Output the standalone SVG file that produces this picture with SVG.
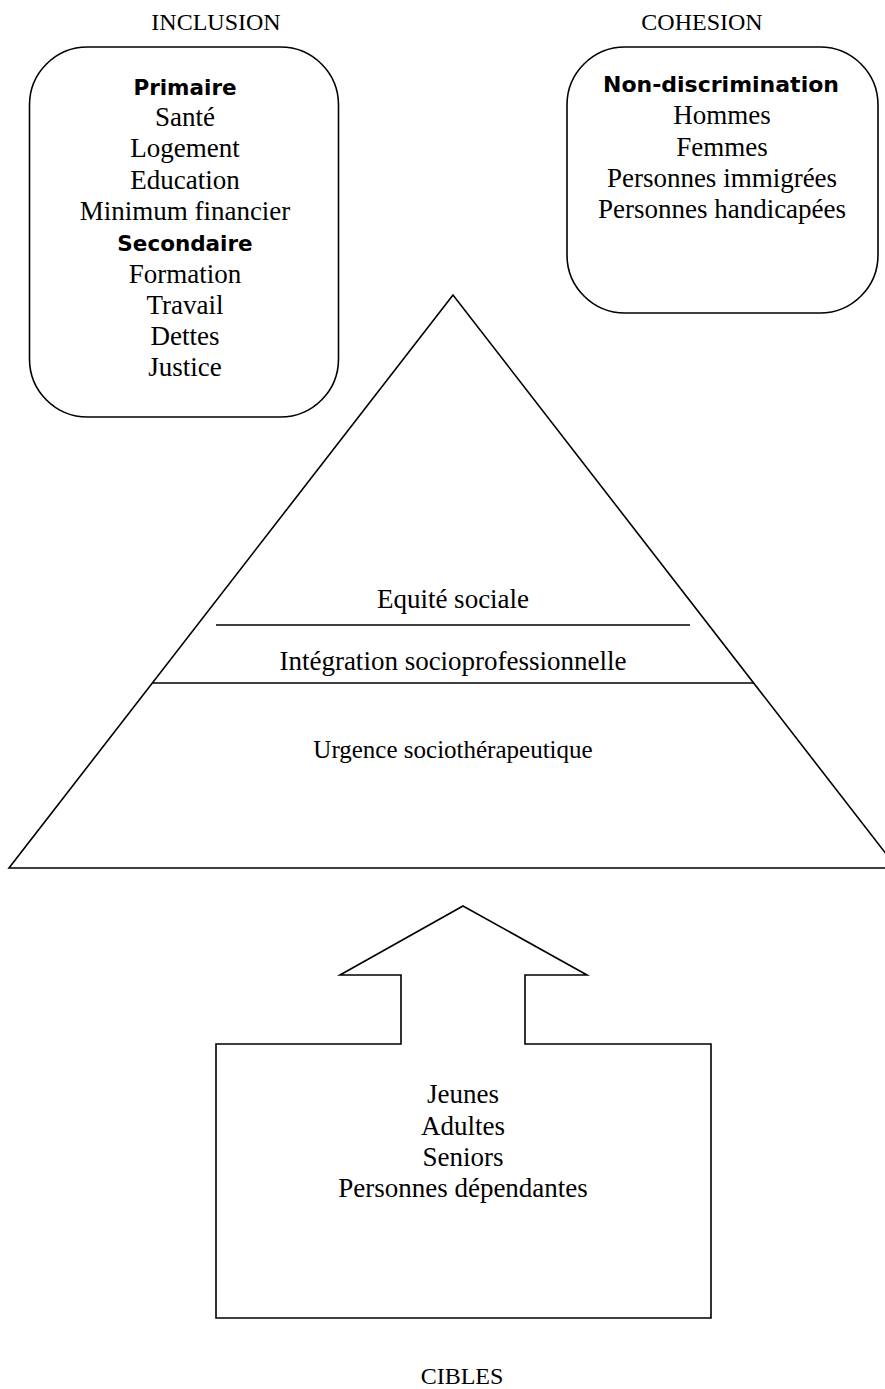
<svg xmlns="http://www.w3.org/2000/svg" width="885" height="1389" viewBox="0 0 885 1389">
<style>
.s{fill:none;stroke:#000;stroke-width:1.6}
.w{fill:#fff;stroke:#000;stroke-width:1.6}
.t{font-family:"Liberation Serif","Times New Roman",serif;font-size:27px;fill:#000;text-anchor:middle}
.h{font-family:"Liberation Serif","Times New Roman",serif;font-size:24px;fill:#000;text-anchor:middle}
.b{font-family:"DejaVu Sans",Verdana,sans-serif;font-weight:bold;font-size:21.5px;fill:#000;text-anchor:middle}
</style>
<rect width="885" height="1389" fill="#fff"/>
<g id="pyramid">
<polygon class="w" points="453,295 9,868 897,868"/>
<line class="s" x1="216" y1="625" x2="690" y2="625"/>
<line class="s" x1="153" y1="683" x2="753" y2="683"/>
<text class="t" x="453" y="608">Equité sociale</text>
<text class="t" x="453" y="670">Intégration socioprofessionnelle</text>
<text class="h" x="453" y="758" style="font-size:25px">Urgence sociothérapeutique</text>
</g>
<g id="inclusion">
<text class="h" x="216" y="30">INCLUSION</text>
<rect class="w" x="29.5" y="47" width="309" height="370" rx="58" ry="58"/>
<text class="b" x="185" y="95">Primaire</text>
<text class="t" x="185" y="126">Santé</text>
<text class="t" x="185" y="157">Logement</text>
<text class="t" x="185" y="189">Education</text>
<text class="t" x="185" y="220">Minimum financier</text>
<text class="b" x="185" y="251">Secondaire</text>
<text class="t" x="185" y="283">Formation</text>
<text class="t" x="185" y="314">Travail</text>
<text class="t" x="185" y="345">Dettes</text>
<text class="t" x="185" y="376">Justice</text>
</g>
<g id="cohesion">
<text class="h" x="702" y="30">COHESION</text>
<rect class="w" x="567" y="47" width="311" height="266" rx="58" ry="58"/>
<text class="b" x="721" y="92" style="font-size:22px">Non-discrimination</text>
<text class="t" x="722" y="124">Hommes</text>
<text class="t" x="722" y="156">Femmes</text>
<text class="t" x="722" y="187">Personnes immigrées</text>
<text class="t" x="722" y="218">Personnes handicapées</text>
</g>
<g id="connectors">
<polygon class="w" points="463,906 587,975 525,975 525,1044 711,1044 711,1318 216,1318 216,1044 401,1044 401,975 340,975"/>
</g>
<g id="cibles">
<text class="t" x="463" y="1103">Jeunes</text>
<text class="t" x="463" y="1135">Adultes</text>
<text class="t" x="463" y="1166">Seniors</text>
<text class="t" x="463" y="1197">Personnes dépendantes</text>
<text class="h" x="462" y="1384">CIBLES</text>
</g>
</svg>
